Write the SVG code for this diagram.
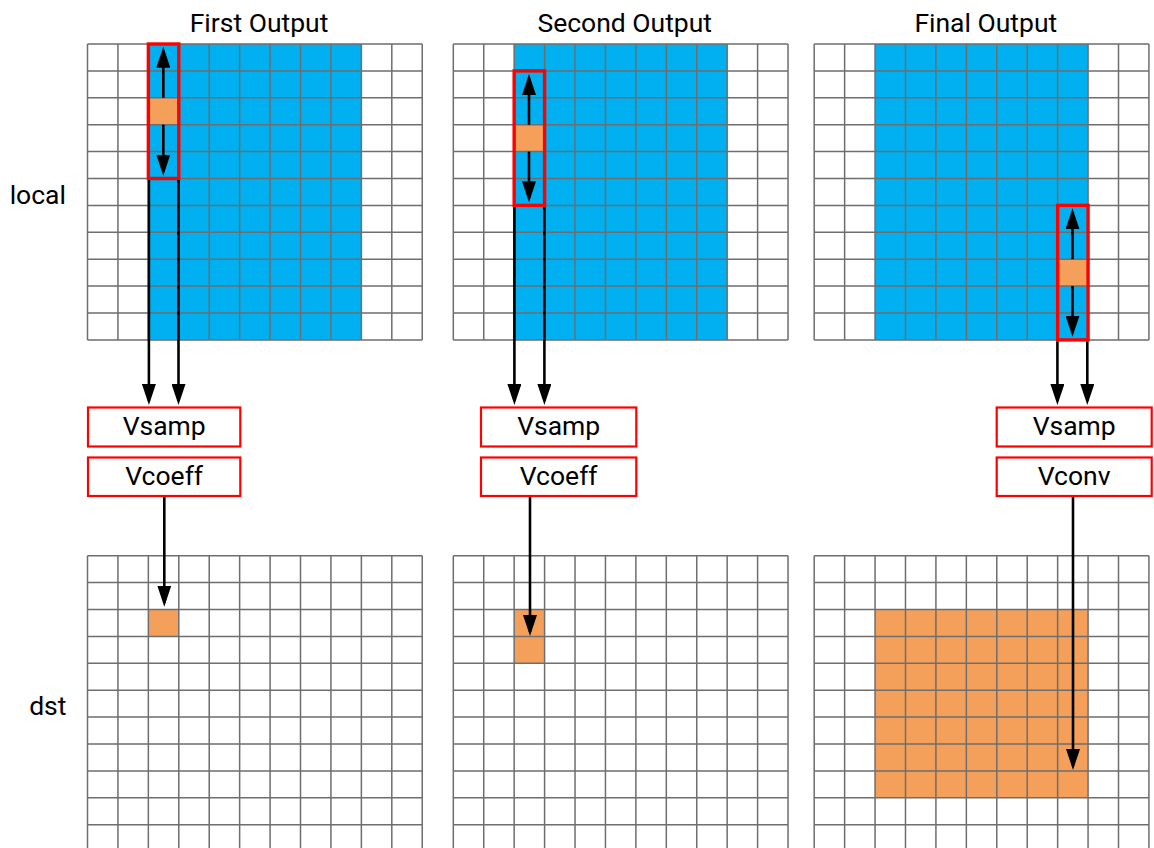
<svg xmlns="http://www.w3.org/2000/svg" xmlns:xlink="http://www.w3.org/1999/xlink" width="1154" height="848" viewBox="0 0 1154 848">
<style>
.lbl{font-family:Roboto,"Liberation Sans",sans-serif;font-size:26.5px;fill:#000}
.mid{text-anchor:middle}
.blue{fill:#00B0F0}
.org{fill:#F4A05A}
.win{fill:none;stroke:#FF0000;stroke-width:3.4}
.box{fill:#fff;stroke:#FF0000;stroke-width:2.2}
.arr{stroke:#000;stroke-width:2.6;fill:none;marker-end:url(#ah)}
</style>
<defs>
<marker id="ah" markerUnits="userSpaceOnUse" markerWidth="21" markerHeight="14" viewBox="0 0 21 14" refX="17" refY="7" orient="auto"><path d="M0,0L21,7L0,14z" fill="#000"/></marker>
<path id="grid" fill="none" stroke="#6E6E6E" stroke-width="1.5" d="M0,0V295.9M30.43,0V295.9M60.86,0V295.9M91.29,0V295.9M121.72,0V295.9M152.15,0V295.9M182.58,0V295.9M213.01,0V295.9M243.44,0V295.9M273.87,0V295.9M304.3,0V295.9M334.73,0V295.9M0,0H334.73M0,26.9H334.73M0,53.8H334.73M0,80.7H334.73M0,107.6H334.73M0,134.5H334.73M0,161.4H334.73M0,188.3H334.73M0,215.2H334.73M0,242.1H334.73M0,269H334.73M0,295.9H334.73"/>
</defs>
<rect width="1154" height="848" fill="#fff"/>

<g id="titles">
<text class="lbl mid" x="259" y="32">First Output</text>
<text class="lbl mid" x="624.7" y="32">Second Output</text>
<text class="lbl mid" x="985.8" y="32">Final Output</text>
<text class="lbl mid" x="37.8" y="204">local</text>
<text class="lbl mid" x="47.8" y="715">dst</text>
</g>

<g id="local1">
<rect class="blue" x="148.36" y="44" width="213.01" height="295.9"/>
<rect class="org" x="148.36" y="97.8" width="30.43" height="26.9"/>
<use xlink:href="#grid" href="#grid" x="87.5" y="44"/>
<rect class="win" x="148.36" y="44" width="30.43" height="134.5"/>
</g>
<g id="local2">
<rect class="blue" x="514.16" y="44" width="213.01" height="295.9"/>
<rect class="org" x="514.16" y="124.7" width="30.43" height="26.9"/>
<use xlink:href="#grid" href="#grid" x="453.3" y="44"/>
<rect class="win" x="514.16" y="70.9" width="30.43" height="134.5"/>
</g>
<g id="local3">
<rect class="blue" x="875.06" y="44" width="213.01" height="295.9"/>
<rect class="org" x="1057.64" y="259.2" width="30.43" height="26.9"/>
<use xlink:href="#grid" href="#grid" x="814.2" y="44"/>
<rect class="win" x="1057.64" y="205.4" width="30.43" height="134.5"/>
</g>

<g id="dst1">
<rect class="org" x="148.36" y="609.5" width="30.43" height="26.9"/>
<use xlink:href="#grid" href="#grid" x="87.5" y="555.7"/>
</g>
<g id="dst2">
<rect class="org" x="514.16" y="609.5" width="30.43" height="53.8"/>
<use xlink:href="#grid" href="#grid" x="453.3" y="555.7"/>
</g>
<g id="dst3">
<rect class="org" x="875.06" y="609.5" width="213.01" height="188.3"/>
<use xlink:href="#grid" href="#grid" x="814.2" y="555.7"/>
</g>

<g id="vsamp1"><rect class="box" x="88" y="407.5" width="152.3" height="39"/><text class="lbl mid" x="164.2" y="434.8">Vsamp</text></g>
<g id="vcoeff1"><rect class="box" x="88" y="457.5" width="152.3" height="38.5"/><text class="lbl mid" x="164.2" y="484.8">Vcoeff</text></g>
<g id="vsamp2"><rect class="box" x="481" y="407.5" width="155.3" height="39"/><text class="lbl mid" x="558.7" y="434.8">Vsamp</text></g>
<g id="vcoeff2"><rect class="box" x="481" y="457.5" width="155.3" height="38.5"/><text class="lbl mid" x="558.7" y="484.8">Vcoeff</text></g>
<g id="vsamp3"><rect class="box" x="996.7" y="407.5" width="155" height="39"/><text class="lbl mid" x="1074.2" y="434.8">Vsamp</text></g>
<g id="vconv3"><rect class="box" x="996.7" y="457.5" width="155" height="38.5"/><text class="lbl mid" x="1074.2" y="484.8">Vconv</text></g>

<g id="connectors">
<path class="arr" d="M163.3,97.8V50.7"/>
<path class="arr" d="M163.3,124.7V171.7"/>
<path class="arr" d="M148.9,180V401"/>
<path class="arr" d="M178.5,180V401"/>
<path class="arr" d="M164.3,497V602.7"/>

<path class="arr" d="M529,124.7V78"/>
<path class="arr" d="M529,151.6V198.3"/>
<path class="arr" d="M514.4,207V401"/>
<path class="arr" d="M544.4,207V401"/>
<path class="arr" d="M530,497V632"/>

<path class="arr" d="M1072.5,259.2V212.3"/>
<path class="arr" d="M1072.5,286.1V332.7"/>
<path class="arr" d="M1057.4,341.5V401"/>
<path class="arr" d="M1087.3,341.5V401"/>
<path class="arr" d="M1073,497V766"/>
</g>
</svg>
